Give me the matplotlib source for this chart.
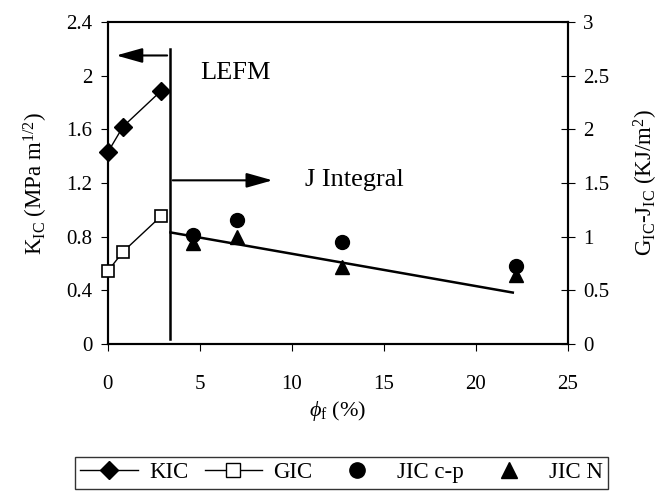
import matplotlib.pyplot as plt
from matplotlib.lines import Line2D

plt.rcParams['font.family'] = ['Liberation Serif', 'DejaVu Serif']
plt.rcParams['mathtext.fontset'] = 'custom'
plt.rcParams['mathtext.rm'] = 'Liberation Serif'
plt.rcParams['mathtext.it'] = 'Liberation Serif:italic'

# fibre volume fraction (%)
kic_x = [0, 0.82, 2.88]
kic_y = [1.43, 1.62, 1.885]          # MPa m^1/2 (left axis)

gic_x = [0, 0.82, 2.88]
gic_y = [0.68, 0.86, 1.19]           # KJ/m^2 (right axis)

jcp_x = [4.6, 7.0, 12.7, 22.2]
jcp_y = [1.02, 1.16, 0.95, 0.73]

jn_x = [4.6, 7.0, 12.7, 22.2]
jn_y = [0.94, 1.0, 0.72, 0.64]

fit_x = [3.4, 22.0]
fit_y = [1.04, 0.48]

limit_x = 3.37   # LEFM / J integral boundary

fig = plt.figure(figsize=(6.62, 4.98), dpi=100)
ax = fig.add_axes([0.163, 0.309, 0.695, 0.647])
ax2 = ax.twinx()

ax.plot(kic_x, kic_y, color='black', lw=1, marker='D', ms=9, mfc='black', clip_on=False, zorder=5)
ax2.plot(gic_x, gic_y, color='black', lw=1, marker='s', ms=9, mfc='white', mew=1.2, clip_on=False, zorder=5)
ax2.plot(fit_x, fit_y, color='black', lw=1.8)
ax2.plot(jcp_x, jcp_y, ls='none', marker='o', ms=10, color='black')
ax2.plot(jn_x, jn_y, ls='none', marker='^', ms=10, color='black')

ax.plot([limit_x, limit_x], [0.04, 2.2], color='black', lw=1.8)
ax.annotate('', xy=(0.3, 2.15), xytext=(limit_x, 2.15),
            arrowprops=dict(arrowstyle='-|>,head_length=1.6,head_width=0.45', color='black', lw=1.5))
ax.annotate('', xy=(9.1, 1.22), xytext=(limit_x, 1.22),
            arrowprops=dict(arrowstyle='-|>,head_length=1.6,head_width=0.45', color='black', lw=1.5))
ax.text(5.0, 2.02, 'LEFM', fontsize=19, va='center')
ax.text(10.7, 1.22, 'J Integral', fontsize=19, va='center')

ax.set_xlim(0, 25)
ax.set_ylim(0, 2.4)
ax2.set_ylim(0, 3)
ax.set_xticks([0, 5, 10, 15, 20, 25])
ax.set_yticks([0, 0.4, 0.8, 1.2, 1.6, 2.0, 2.4])
ax.set_yticklabels(['0', '0.4', '0.8', '1.2', '1.6', '2', '2.4'])
ax2.set_yticks([0, 0.5, 1, 1.5, 2, 2.5, 3])
ax2.set_yticklabels(['0', '0.5', '1', '1.5', '2', '2.5', '3'])

ax.tick_params(axis='x', direction='out', length=5, labelsize=15, pad=17)
ax.tick_params(axis='y', direction='out', length=5, labelsize=15, pad=6)
ax2.tick_params(axis='y', direction='inout', length=10, labelsize=15, pad=6)
for a in (ax, ax2):
    for s in a.spines.values():
        s.set_linewidth(1.5)
ax.spines['top'].set_color('#777777')

ax.set_xlabel(r'$\phi_{\rm f}$ (%)', fontsize=16, labelpad=4)
ax.set_ylabel(r'K$_{\rm IC}$ (MPa m$^{1/2}$)', fontsize=16.5, labelpad=12)
ax2.set_ylabel(r'G$_{\rm IC}$-J$_{\rm IC}$ (KJ/m$^{2}$)', fontsize=16.5, labelpad=16)

handles = [
    Line2D([], [], color='black', lw=1, marker='D', ms=9, mfc='black'),
    Line2D([], [], color='black', lw=1, marker='s', ms=10, mfc='white'),
    Line2D([], [], ls='none', marker='o', ms=11, color='black'),
    Line2D([], [], ls='none', marker='^', ms=11, color='black'),
]
fig.legend(handles, ['KIC', 'GIC', 'JIC c-p', 'JIC N'], ncol=4, loc='lower center',
           bbox_to_anchor=(0.516, -0.005), fontsize=16.5, frameon=True, fancybox=False,
           edgecolor='black', handlelength=2.5, handletextpad=0.5, columnspacing=0.7,
           borderpad=0.25)

fig.savefig('out.png', dpi=100)
